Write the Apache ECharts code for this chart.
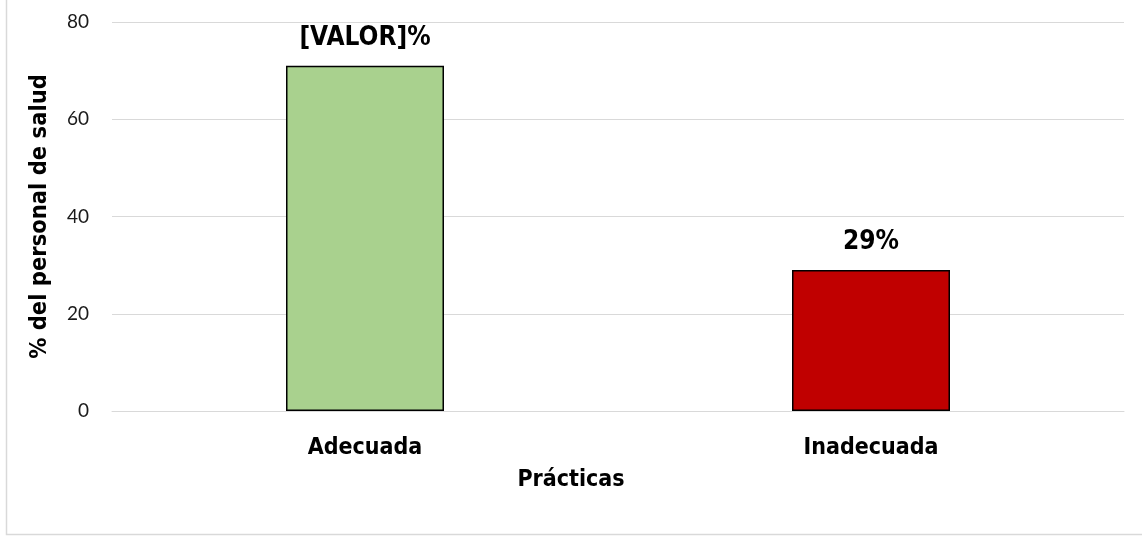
<!DOCTYPE html>
<html><head><meta charset="utf-8">
<script src="https://cdn.jsdelivr.net/npm/echarts@6/dist/echarts.min.js"></script>
<style>html,body{margin:0;padding:0;background:#fff}#c{width:1142px;height:536px}</style>
</head><body><div id="c"></div>
<script>
const categories = ['Adecuada', 'Inadecuada'];
const values = [71, 29];
const barLabels = ['[VALOR]%', '29%'];
const barColors = ['#A9D18E', '#C00000'];
const yTicks = [0, 20, 40, 60, 80];

const narrow = "'Liberation Sans Narrow', 'Arial Narrow', 'DejaVu Sans Condensed', sans-serif";
const chart = echarts.init(document.getElementById('c'));
chart.setOption({
  animation: false,
  graphic: [{type:'rect', shape:{x:6.5, y:-10, width:1160, height:544.5}, style:{fill:'none', stroke:'#d9d9d9', lineWidth:1.5}, silent:true}],
  grid: {left:112, right:18, top:22, bottom:125},
  xAxis: {
    type:'category', data: categories,
    axisLine:{show:true, lineStyle:{color:'#d9d9d9', width:1}},
    axisTick:{show:false},
    axisLabel:{margin:26, fontFamily:narrow, fontWeight:'bold', fontSize:23, color:'#000'},
    name:'Prácticas', nameLocation:'middle', nameGap:58,
    nameTextStyle:{fontFamily:narrow, fontWeight:'bold', fontSize:23, color:'#000', padding:[0,94,0,0]}
  },
  yAxis: {
    type:'value', min:yTicks[0], max:yTicks[yTicks.length-1], interval:20,
    axisLine:{show:false}, axisTick:{show:false},
    splitLine:{lineStyle:{color:'#d9d9d9', width:1}},
    axisLabel:{margin:23, fontFamily:"Lato, 'Open Sans', sans-serif", fontSize:19, color:'#1a1a1a'},
    name:'% del personal de salud', nameLocation:'middle', nameGap:60, nameRotate:90,
    nameTextStyle:{fontFamily:narrow, fontWeight:'bold', fontSize:23.5, color:'#000'}
  },
  series: [{
    type:'bar', barWidth:158,
    data: values.map((v,i)=>({value:v, itemStyle:{color:barColors[i]}, label:{formatter:barLabels[i]}})),
    itemStyle:{borderColor:'#000', borderWidth:1.5},
    label:{show:true, position:'top', distance:15, fontFamily:narrow, fontWeight:'bold', fontSize:26, color:'#000'}
  }]
});
</script></body></html>
